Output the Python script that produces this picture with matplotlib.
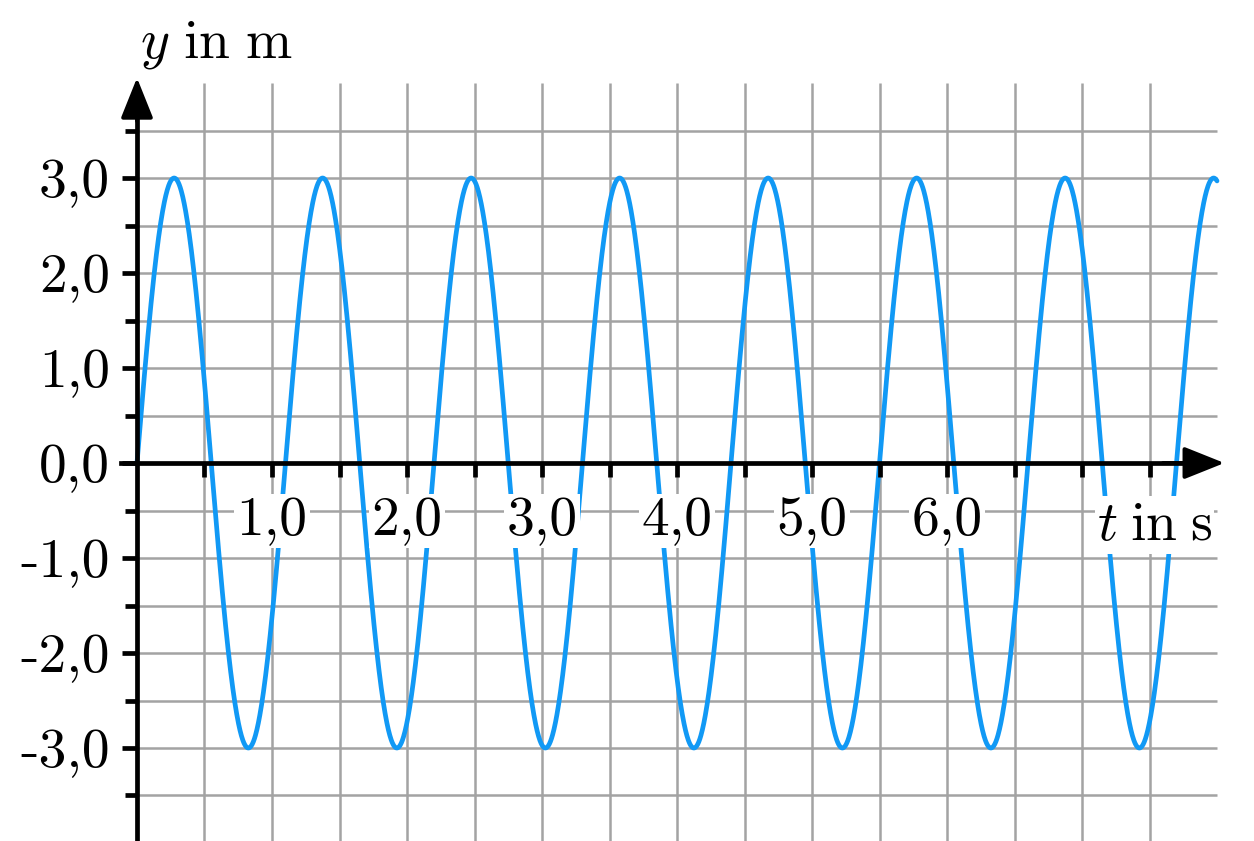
import numpy as np
import matplotlib
matplotlib.use("Agg")
import matplotlib.pyplot as plt
from matplotlib.patches import FancyArrowPatch

# ---------------- data ----------------
amplitude_m = 3.0          # peak value
period_s = 1.1             # peak-to-peak spacing
phase_rad = 0.0            # curve starts at the origin going up
t_start_s = 0.0
t_end_s = 8.0

x_tick_values = [1.0, 2.0, 3.0, 4.0, 5.0, 6.0]
x_tick_labels = ["1,0", "2,0", "3,0", "4,0", "5,0", "6,0"]
x_minor_values = [0.5, 1.5, 2.5, 3.5, 4.5, 5.5, 6.5, 7.0, 7.5]
y_tick_values = [-3.0, -2.0, -1.0, 0.0, 1.0, 2.0, 3.0]
y_tick_labels = ["-3,0", "-2,0", "-1,0", "0,0", "1,0", "2,0", "3,0"]
y_minor_values = [-3.5, -2.5, -1.5, -0.5, 0.5, 1.5, 2.5, 3.5]
grid_x_values = [0.5, 1.0, 1.5, 2.0, 2.5, 3.0, 3.5, 4.0, 4.5, 5.0, 5.5, 6.0, 6.5, 7.0, 7.5]
grid_y_values = [-3.5, -3.0, -2.5, -2.0, -1.5, -1.0, -0.5, 0.5, 1.0, 1.5, 2.0, 2.5, 3.0, 3.5]

y_label = r"$y\ \mathrm{in\ m}$"
t_label = r"$t\;\mathrm{in\;s}$"

# ---------------- style ----------------
plt.rcParams["mathtext.fontset"] = "cm"
curve_color = "#1199f5"
grid_color = "#a3a3a3"
FS = 40

fig = plt.figure(figsize=(12.54, 8.41), dpi=100)
ax = fig.add_axes([0, 0, 1, 1])
ax.set_xlim(-1.0148, 8.274)
ax.set_ylim(-3.979, 4.874)
ax.set_axisbelow(False)

# grid (manual extents)
ax.vlines(grid_x_values, -4.5, 4.0, color=grid_color, lw=1.8, zorder=1)
ax.hlines(grid_y_values, 0.0, 8.0, color=grid_color, lw=1.8, zorder=1)

# curve
t = np.linspace(t_start_s, t_end_s, 3000)
y = amplitude_m * np.sin(2 * np.pi * t / period_s + phase_rad)
ax.plot(t, y, color=curve_color, lw=3.4, zorder=2, solid_capstyle="round")

# spines as axes through origin
for s in ("top", "right"):
    ax.spines[s].set_visible(False)
ax.spines["left"].set_position(("data", 0))
ax.spines["bottom"].set_position(("data", 0))
ax.spines["left"].set_linewidth(3.4)
ax.spines["bottom"].set_linewidth(3.4)
ax.spines["left"].set_bounds(-4.5, 3.8)
ax.spines["bottom"].set_bounds(-0.12, 7.8)
ax.spines["left"].set_zorder(3)
ax.spines["bottom"].set_zorder(3)

# arrow heads
arrow_kw = dict(arrowstyle="-|>,head_length=2.5,head_width=1.0", mutation_scale=10,
                color="black", lw=2.8, shrinkA=0, shrinkB=0, zorder=4)
ax.add_patch(FancyArrowPatch((0, 3.6), (0, 4.055), **arrow_kw))
ax.add_patch(FancyArrowPatch((7.6, 0), (8.055, 0), **arrow_kw))

# ticks
ax.set_xticks(x_tick_values, x_tick_labels)
ax.set_xticks(x_minor_values, minor=True)
ax.set_yticks(y_tick_values, y_tick_labels)
ax.set_yticks(y_minor_values, minor=True)
ax.tick_params(axis="x", which="both", direction="out", length=10, width=3.4, pad=14, labelsize=FS)
ax.tick_params(axis="y", which="major", direction="out", length=11, width=3.4, pad=8.5, labelsize=FS)
ax.tick_params(axis="y", which="minor", direction="out", length=8.6, width=3.4)
for lab in ax.get_xticklabels() + ax.get_yticklabels():
    lab.set_fontfamily("cmr10")
for lab in ax.get_xticklabels():
    lab.set_bbox(dict(facecolor="white", edgecolor="none", pad=1.5))

# axis titles
ax.text(0.02, 4.27, y_label, fontsize=FS, ha="left", va="baseline", zorder=5)
ax.text(7.11, -0.81, t_label, fontsize=FS, ha="left", va="baseline", zorder=5,
        bbox=dict(facecolor="white", edgecolor="none", pad=1.5))

fig.savefig("out.png", dpi=100)
